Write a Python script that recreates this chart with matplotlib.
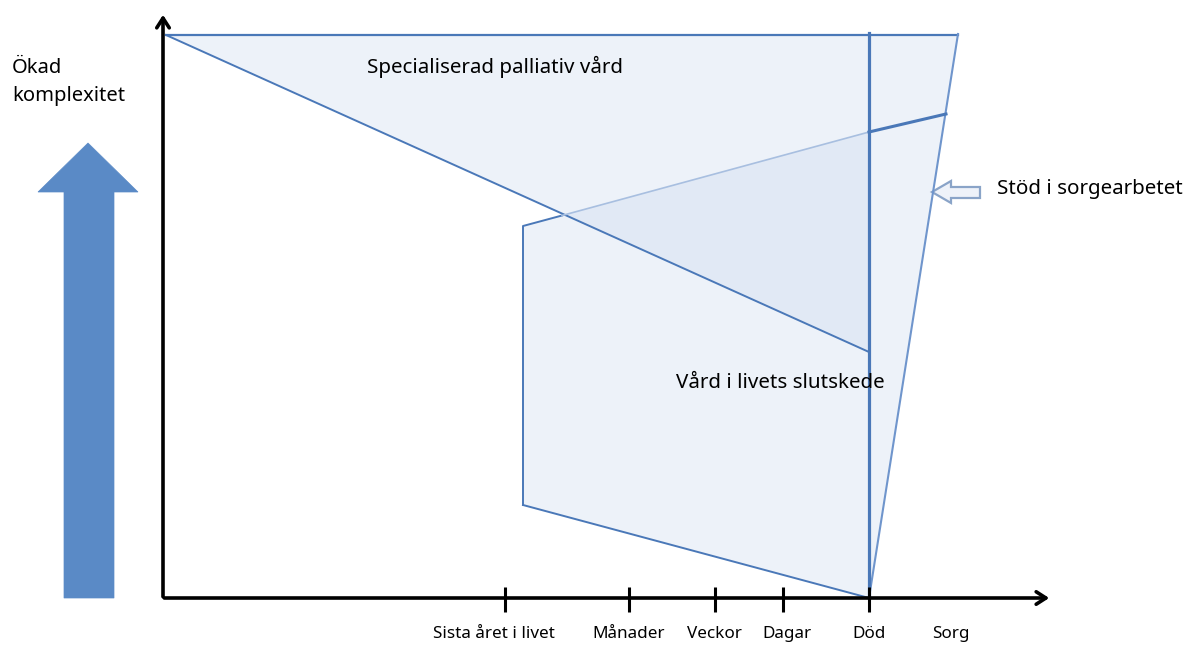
import matplotlib
matplotlib.use("Agg")
import matplotlib.pyplot as plt
from matplotlib.patches import Polygon

plt.rcParams['font.family'] = ['Noto Sans', 'DejaVu Sans']

# diagram coordinates (pixels of the original picture, y downwards)
origin = (163, 598)
x_axis_end = 1052
y_axis_end = 12

tick_x = [505, 629, 715, 783, 869]
label_x = [494, 629, 714, 787, 869, 951]
tick_labels = ["Sista året i livet", "Månader", "Veckor", "Dagar", "Död", "Sorg"]

# specialiserad palliativ vård (triangle)
spec_x = [166, 869, 869]
spec_y = [35, 35, 352]
# vård i livets slutskede
slut_x = [523, 869, 869, 523]
slut_y = [226, 132, 598, 505]
# stöd i sorgearbetet
sorg_x = [869, 958, 869]
sorg_y = [34, 34, 598]
sorg_split_x = [869, 946]
sorg_split_y = [132, 114]
cross_x = 562  # where the two diagonals meet

# big arrow "ökad komplexitet"
big_arrow_x = [64, 114, 114, 138, 88, 38, 64]
big_arrow_y = [598, 598, 192, 192, 143, 192, 192]

# small hollow arrow
small_arrow_x = [932, 951, 951, 980, 980, 951, 951]
small_arrow_y = [192, 181, 187, 187, 198, 198, 203]

line_c = '#4a78b8'
pale_c = '#a8bfe0'
fill_c = '#cddbef'

fig = plt.figure(figsize=(11.95, 6.45), dpi=100)
ax = fig.add_axes([0, 0, 1, 1])
ax.set_xlim(0, 1195)
ax.set_ylim(645, 0)
ax.axis('off')

# fills
for xs, ys in [(spec_x, spec_y), (slut_x, slut_y), (sorg_x, sorg_y)]:
    ax.add_patch(Polygon(list(zip(xs, ys)), closed=True, facecolor=fill_c,
                         alpha=0.35, edgecolor='none'))

# outlines
ax.plot([spec_x[0], sorg_x[1]], [spec_y[0], spec_y[0]], color=line_c, lw=1.6)
ax.plot([spec_x[0], spec_x[2]], [spec_y[0], spec_y[2]], color=line_c, lw=1.4)
ax.plot([slut_x[3], slut_x[0], cross_x], [slut_y[3], slut_y[0], 215.5], color=line_c, lw=1.4)
ax.plot([cross_x, slut_x[1]], [215.5, slut_y[1]], color=pale_c, lw=1.2)
ax.plot([slut_x[3], slut_x[2]], [slut_y[3], slut_y[2]], color=line_c, lw=1.4)
ax.plot([sorg_x[1], sorg_x[2]], [sorg_y[1], sorg_y[2]], color='#6f95cc', lw=1.5)
ax.plot(sorg_split_x, sorg_split_y, color=line_c, lw=2.2)
ax.plot([869, 869], [33, 598], color=line_c, lw=2.3)

# axes with arrows
ax.annotate('', xy=(origin[0], y_axis_end), xytext=(origin[0], origin[1] + 1.5),
            arrowprops=dict(arrowstyle='->,head_length=0.7,head_width=0.45', lw=2.6, color='black'))
ax.annotate('', xy=(x_axis_end, origin[1]), xytext=(origin[0] - 1.5, origin[1]),
            arrowprops=dict(arrowstyle='->,head_length=0.7,head_width=0.45', lw=2.6, color='black'))
for tx in tick_x:
    ax.plot([tx, tx], [587, 612], color='black', lw=2.2, solid_capstyle='butt')
for lx, lab in zip(label_x, tick_labels):
    ax.text(lx, 634, lab, ha='center', va='center', fontsize=12.3)

# arrows
ax.add_patch(Polygon(list(zip(big_arrow_x, big_arrow_y)), closed=True,
                     facecolor='#5a8ac6', edgecolor='#5a8ac6', lw=0.5))
ax.add_patch(Polygon(list(zip(small_arrow_x, small_arrow_y)), closed=True,
                     facecolor='#eef2f9', edgecolor='#8aa4c8', lw=1.6))

# text
ax.text(12, 82, "Ökad\nkomplexitet", ha='left', va='center', fontsize=14.5, linespacing=1.55)
ax.text(495, 67, "Specialiserad palliativ vård", ha='center', va='center', fontsize=14.8)
ax.text(780, 383, "Vård i livets slutskede", ha='center', va='center', fontsize=14.8)
ax.text(997, 189, "Stöd i sorgearbetet", ha='left', va='center', fontsize=14.8)

fig.savefig('out.png', dpi=100)
